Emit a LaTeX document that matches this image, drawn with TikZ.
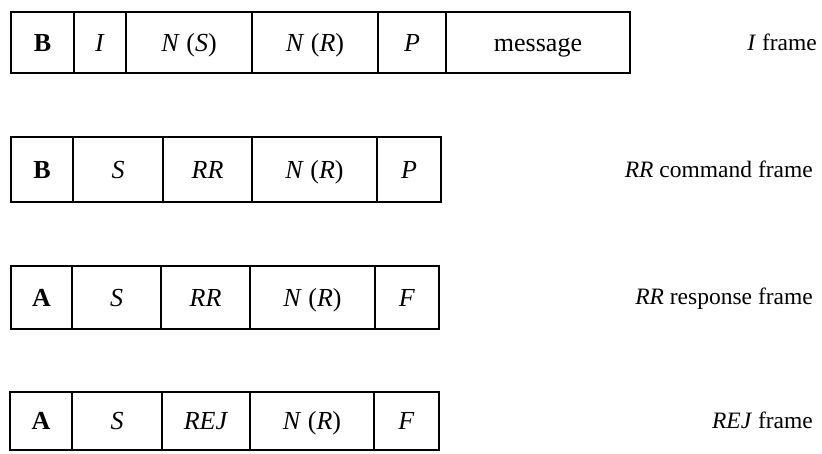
\documentclass[tikz,border=0pt]{standalone}
\usepackage{fontspec}
\setmainfont{Liberation Serif}
\begin{document}
\begin{tikzpicture}[x=1pt,y=1pt,
  cell/.style={draw, line width=1.4pt, inner sep=0pt, text height=22pt, text depth=4.8pt, font=\fontsize{26}{29}\selectfont},
  lbl/.style={anchor=east, inner sep=0pt, text height=20pt, text depth=4.5pt, font=\fontsize{23.5}{26}\selectfont}]
\useasboundingbox (0,0) rectangle (822,-453);
% Row 1 : I frame  (top 12, bottom 73)
\node[cell, minimum width=63, minimum height=61] (a1) at (42.5,-42.5) {\textbf{B}};
\node[cell, minimum width=52, minimum height=61] (a2) at (100,-42.5) {\textit{I}};
\node[cell, minimum width=126, minimum height=61] (a3) at (189,-42.5) {\textit{N} (\textit{S})};
\node[cell, minimum width=126, minimum height=61] (a4) at (315,-42.5) {\textit{N} (\textit{R})};
\node[cell, minimum width=68, minimum height=61] (a5) at (412,-42.5) {\textit{P}};
\node[cell, minimum width=184, minimum height=61] (a6) at (538,-42.5) {message};
\node[lbl] (l1) at (817,-43) {\textit{I} frame};
% Row 2 : RR command frame (top 137, bottom 202)
\node[cell, minimum width=62, minimum height=65] (b1) at (42,-169.5) {\textbf{B}};
\node[cell, minimum width=90, minimum height=65] (b2) at (118,-169.5) {\textit{S}};
\node[cell, minimum width=89, minimum height=65] (b3) at (207.5,-169.5) {\textit{RR}};
\node[cell, minimum width=125, minimum height=65] (b4) at (314.5,-169.5) {\textit{N} (\textit{R})};
\node[cell, minimum width=64, minimum height=65] (b5) at (409,-169.5) {\textit{P}};
\node[lbl] (l2) at (813,-170) {\textit{RR} command frame};
% Row 3 : RR response frame (top 266, bottom 329)
\node[cell, minimum width=61, minimum height=63] (c1) at (41.5,-297.5) {\textbf{A}};
\node[cell, minimum width=89, minimum height=63] (c2) at (116.5,-297.5) {\textit{S}};
\node[cell, minimum width=89, minimum height=63] (c3) at (205.5,-297.5) {\textit{RR}};
\node[cell, minimum width=125, minimum height=63] (c4) at (312.5,-297.5) {\textit{N} (\textit{R})};
\node[cell, minimum width=64, minimum height=63] (c5) at (407,-297.5) {\textit{F}};
\node[lbl] (l3) at (813,-297) {\textit{RR} response frame};
% Row 4 : REJ frame (top 392, bottom 450)
\node[cell, minimum width=62, minimum height=58] (d1) at (41,-421) {\textbf{A}};
\node[cell, minimum width=90, minimum height=58] (d2) at (117,-421) {\textit{S}};
\node[cell, minimum width=88, minimum height=58] (d3) at (206,-421) {\textit{REJ}};
\node[cell, minimum width=124, minimum height=58] (d4) at (312,-421) {\textit{N} (\textit{R})};
\node[cell, minimum width=65, minimum height=58] (d5) at (406.5,-421) {\textit{F}};
\node[lbl] (l4) at (813,-421) {\textit{REJ} frame};
\end{tikzpicture}
\end{document}
